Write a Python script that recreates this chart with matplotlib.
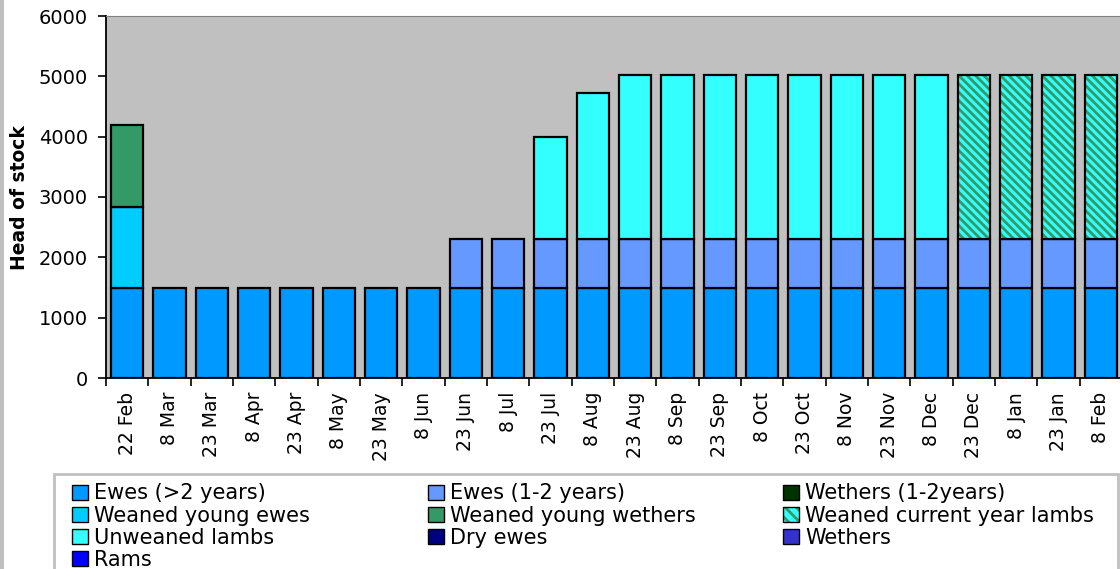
import numpy as np
import matplotlib.pyplot as plt
from matplotlib.patches import Patch, Rectangle
from matplotlib.legend_handler import HandlerTuple

plt.rcParams['font.family'] = ['DejaVu Sans']
plt.rcParams['hatch.linewidth'] = 2.0

# -------- data --------
dates = ["22 Feb", "8 Mar", "23 Mar", "8 Apr", "23 Apr", "8 May", "23 May", "8 Jun",
         "23 Jun", "8 Jul", "23 Jul", "8 Aug", "23 Aug", "8 Sep", "23 Sep", "8 Oct",
         "23 Oct", "8 Nov", "23 Nov", "8 Dec", "23 Dec", "8 Jan", "23 Jan", "8 Feb"]

ewes_old = [1500] * 24
ewes_young = [0] * 8 + [800] * 16
wethers_1_2 = [0] * 24
weaned_young_ewes = [1330] + [0] * 23
weaned_young_wethers = [1370] + [0] * 23
weaned_lambs = [0] * 20 + [2720] * 4
unweaned_lambs = [0] * 10 + [1700, 2430] + [2720] * 8 + [0] * 4
dry_ewes = [0] * 24
wethers = [0] * 24
rams = [0] * 24

series = [
    ("Ewes (>2 years)", ewes_old, "#0099FF"),
    ("Ewes (1-2 years)", ewes_young, "#6699FF"),
    ("Wethers (1-2years)", wethers_1_2, "#003300"),
    ("Weaned young ewes", weaned_young_ewes, "#00CCFF"),
    ("Weaned young wethers", weaned_young_wethers, "#339966"),
    ("Weaned current year lambs", weaned_lambs, "hatch"),
    ("Unweaned lambs", unweaned_lambs, "#33FFFF"),
    ("Dry ewes", dry_ewes, "#000080"),
    ("Wethers", wethers, "#3333CC"),
    ("Rams", rams, "#0000FF"),
]

fig = plt.figure(figsize=(11.2, 5.69), dpi=100)
fig.patches.append(Rectangle((0, 0), 4 / 1120, 1, transform=fig.transFigure,
                             facecolor="#C0C0C0", edgecolor="none"))

ax = fig.add_axes([106 / 1120, 191 / 569, 1016 / 1120, 362 / 569])
ax.set_facecolor("#C0C0C0")

x = np.arange(len(dates))
w = 0.76
bottom = np.zeros(len(dates))
handles = {}
for name, vals, color in series:
    vals = np.array(vals, dtype=float)
    keep = vals > 0
    if color == "hatch":
        ax.bar(x[keep], vals[keep], w, bottom=bottom[keep], color="#33FFFF",
               edgecolor="#339966", hatch="\\\\\\\\", linewidth=0)
        ax.bar(x[keep], vals[keep], w, bottom=bottom[keep], fill=False,
               edgecolor="black", linewidth=1.6)
        handles[name] = (Patch(facecolor="#33FFFF", edgecolor="#339966", hatch="\\\\\\", linewidth=0),
                         Patch(fill=False, edgecolor="black", linewidth=1.0))
    else:
        ax.bar(x[keep], vals[keep], w, bottom=bottom[keep], color=color,
               edgecolor="black", linewidth=1.6)
        handles[name] = Patch(facecolor=color, edgecolor="black", linewidth=1.0)
    bottom += vals

ax.set_xlim(-0.5, len(dates) - 0.5)
ax.set_ylim(0, 6000)
ax.set_yticks(np.arange(0, 6001, 1000))
ax.set_xticks(x)
ax.set_xticklabels(dates, rotation=90, fontsize=13.5)
ax.set_xticks(np.arange(-0.5, len(dates), 1), minor=True)
ax.tick_params(axis="x", which="major", length=0, pad=10)
ax.tick_params(axis="x", which="minor", length=6, width=1.2, direction="out")
ax.tick_params(axis="y", length=6, width=1.2, labelsize=14, pad=7)

for side in ["left", "bottom"]:
    ax.spines[side].set_color("black")
    ax.spines[side].set_linewidth(1.3)
ax.spines["top"].set_color("#808080")
ax.spines["right"].set_visible(False)

fig.text(20 / 1120, 1 - 198 / 569, "Head of stock", rotation=90, fontsize=13.5,
         fontweight="bold", ha="center", va="center")

# legend frame plus three single-column legends
fig.patches.append(Rectangle((54 / 1120, -0.02), 1064 / 1120, (569 - 474) / 569 + 0.02,
                             transform=fig.transFigure, facecolor="white",
                             edgecolor="#C0C0C0", linewidth=2))
names = [s[0] for s in series]
columns = [[names[0], names[3], names[6], names[9]],
           [names[1], names[4], names[7]],
           [names[2], names[5], names[8]]]
col_x = [62, 418, 773]
for cx, col in zip(col_x, columns):
    leg = fig.legend([handles[n] for n in col], col, loc="upper left",
                     bbox_to_anchor=(cx / 1120, 1 - 473 / 569), frameon=False,
                     fontsize=15, handlelength=0.75, handleheight=0.75,
                     handletextpad=0.3, labelspacing=0.1, borderpad=0,
                     handler_map={tuple: HandlerTuple(ndivide=1)})

fig.savefig("out.png", dpi=100)
